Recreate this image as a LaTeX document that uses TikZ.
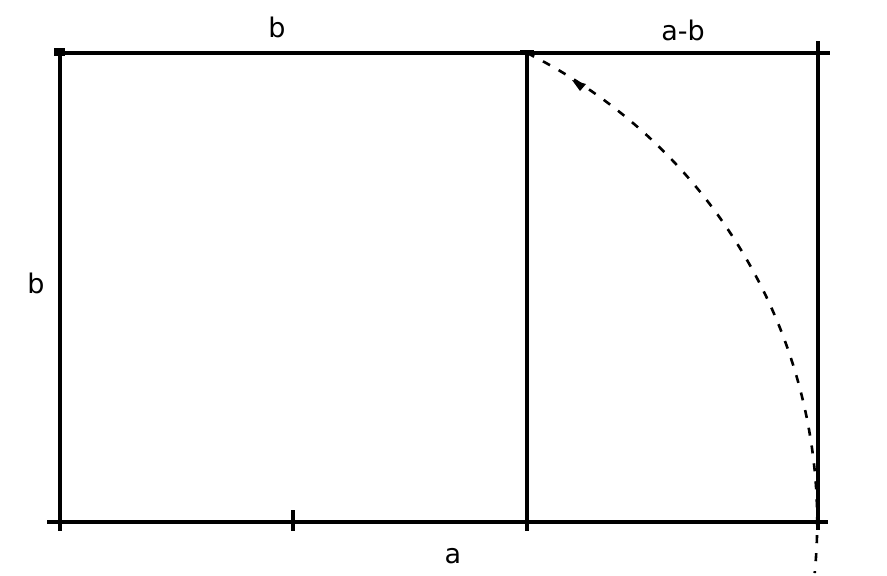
\documentclass[tikz,border=0pt]{standalone}
\usepackage{fontspec}
\setmainfont{DejaVu Sans}
\usetikzlibrary{arrows.meta}
\begin{document}
\begin{tikzpicture}[x=1pt,y=-1pt,
  edge/.style={line width=3.2pt,black},
  arcline/.style={line width=2.6pt,black,dash pattern=on 8pt off 10pt},
  lbl/.style={font=\fontsize{27}{30}\selectfont,inner sep=0pt}]
\useasboundingbox (0,0) rectangle (887,576);
% corners
\coordinate (TL) at (60,53);
\coordinate (TM) at (527,53);
\coordinate (TR) at (818,53);
\coordinate (BL) at (60,522);
\coordinate (BM) at (527,522);
\coordinate (BR) at (818,522);
\coordinate (C) at (293,522);
% extensions
\coordinate (TLe) at (55,53);
\coordinate (TRe) at (830,53);
\coordinate (BLe) at (47,522);
\coordinate (BRe) at (828,522);
\coordinate (BLd) at (60,531);
\coordinate (BMd) at (527,531);
\coordinate (TRu) at (818,41);
\coordinate (BRd) at (818,530);
\coordinate (Cu) at (293,510);
\coordinate (Cd) at (293,531);
% lines
\draw[edge] (TLe) -- (TRe);
\draw[edge] (BLe) -- (BRe);
\draw[edge] (TL) -- (BLd);
\draw[edge] (TM) -- (BMd);
\draw[edge] (TRu) -- (BRd);
\draw[edge] (Cu) -- (Cd);
% corner markers
\fill (TL) ++(-6,-5) rectangle ++(11,8);
\fill (TM) ++(-7,-3) rectangle ++(14,5);
% dashed arc centred at C through TM
\draw[arcline] (TM) arc[start angle=-63.5, end angle=5.6, radius=524];
% small arrow mark on the arc
\fill (572,80) -- (586,84) -- (580,91) -- cycle;
% labels
\node[lbl] (lb1) at (277,27) {b};
\node[lbl] (lab) at (683,30) {a-b};
\node[lbl] (lb2) at (36,283) {b};
\node[lbl] (la) at (453,556) {a};
\end{tikzpicture}
\end{document}
